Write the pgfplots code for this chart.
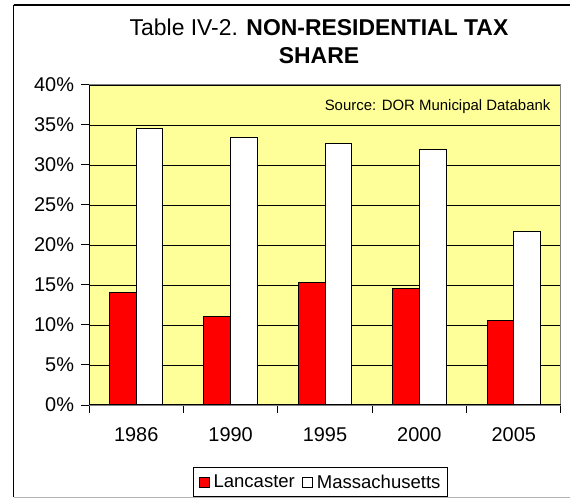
\documentclass[border=0pt]{standalone}
\usepackage{fontspec}
\setmainfont{Liberation Sans}
\usepackage{pgfplots}
\pgfplotsset{compat=1.18}
\definecolor{plotbg}{HTML}{FFFF99}
\definecolor{barred}{HTML}{FF0000}
\begin{document}
\begin{tikzpicture}
\useasboundingbox (0,0) rectangle (570bp,498bp);
\fill[white] (0,0) rectangle (570bp,498bp);
\draw[black, line width=1.2bp] (13.5bp,493bp) -- (580bp,493bp);
\draw[black, line width=1.2bp] (13.5bp,493bp) -- (13.5bp,0.6bp);
\draw[gray!60, line width=1bp] (13.5bp,0.6bp) -- (580bp,0.6bp);
\node[anchor=base, align=center, font=\fontsize{23}{29}\selectfont] at (319bp,434bp)
  {Table IV-2. \textbf{NON-RESIDENTIAL TAX}\\\textbf{SHARE}};
\begin{axis}[
  at={(89bp,93bp)}, anchor=south west,
  scale only axis, width=472bp, height=320bp,
  xmin=-0.5, xmax=4.5, ymin=0, ymax=40,
  ybar=0pt, bar width=26.7bp,
  axis background/.style={fill=plotbg},
  axis line style={gray, line width=1bp},
  xtick={0,1,2,3,4}, xticklabels={1986,1990,1995,2000,2005},
  major x tick style={draw=none},
  minor xtick={-0.5,0.5,1.5,2.5,3.5,4.5},
  minor x tick style={black, line width=1bp},
  minor tick length=8bp,
  ytick={0,5,...,40},
  yticklabel={\pgfmathprintnumber{\tick}\%},
  y tick style={black, line width=1bp},
  major tick length=8bp,
  tick align=outside,
  tick pos=left,
  ymajorgrids, grid style={black, line width=0.8bp},
  ticklabel style={font=\fontsize{20}{24}\selectfont},
  /pgf/number format/assume math mode=true,
  xticklabel style={yshift=-11bp},
  yticklabel style={xshift=-3.5bp},
  legend style={at={(0.4905,-0.195)}, anchor=north, legend columns=2,
    draw=black, line width=1bp, font=\fontsize{18.6}{22}\selectfont,
    inner xsep=5bp, inner ysep=5bp,
    /tikz/every odd column/.append style={column sep=2bp},
    /tikz/every even column/.append style={column sep=5bp}},
  legend image code/.code={\draw[#1, line width=1bp] (0bp,-5bp) rectangle (10bp,5bp);},
]
\addplot[fill=barred, draw=black, line width=1bp] coordinates {(0,14.04) (1,11.05) (2,15.3) (3,14.6) (4,10.5)};
\addplot[fill=white, draw=black, line width=1bp] coordinates {(0,34.6) (1,33.4) (2,32.7) (3,31.9) (4,21.7)};
\legend{Lancaster, Massachusetts}
\draw[black, line width=1.2bp] (rel axis cs:0,1) -- (rel axis cs:0,0) -- (rel axis cs:1,0);
\node[anchor=base east, font=\fontsize{15}{18}\selectfont] at (rel axis cs:0.985,0.91875) {Source: DOR Municipal Databank};
\end{axis}
\end{tikzpicture}
\end{document}
